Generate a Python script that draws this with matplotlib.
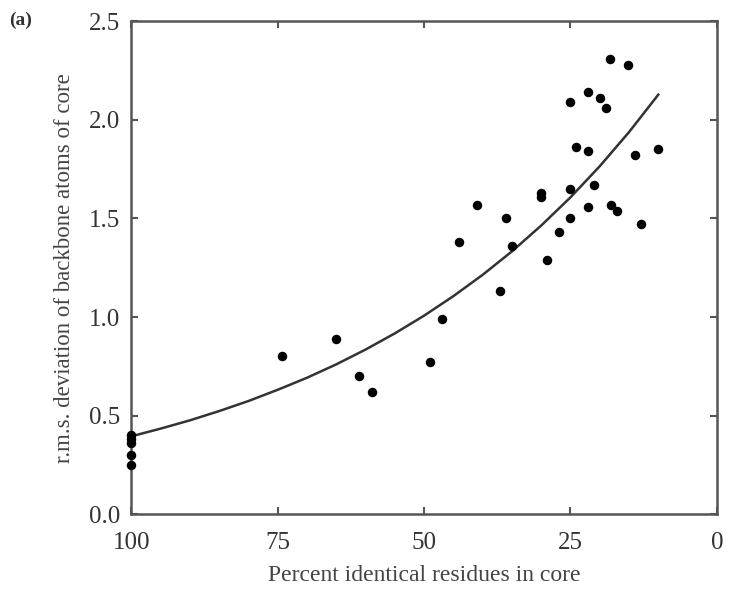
import matplotlib
matplotlib.use('Agg')
import matplotlib.pyplot as plt

# 数据点
identity = [100, 100, 100, 100, 100,
            74.2, 65.0, 61.1, 58.9, 49.0, 47.0,
            44.1, 41.0, 37.0, 36.1, 35.0,
            30.0, 30.0, 29.0, 27.0, 25.0, 25.0, 25.0, 24.1,
            22.0, 22.0, 22.0, 21.0, 20.0, 19.0, 18.2, 18.1,
            17.0, 15.1, 14.0, 13.0, 10.0]
rmsd = [0.40, 0.38, 0.36, 0.30, 0.25,
        0.80, 0.89, 0.70, 0.62, 0.77, 0.99,
        1.38, 1.57, 1.13, 1.50, 1.36,
        1.63, 1.61, 1.29, 1.43, 2.09, 1.65, 1.50, 1.86,
        2.14, 1.84, 1.56, 1.67, 2.11, 2.06, 2.31, 1.57,
        1.54, 2.28, 1.82, 1.47, 1.85]

# 拟合曲线
curve_x = [100, 95, 90, 85, 80, 75, 70, 65, 60, 55, 50, 45, 40, 35, 30, 25, 20, 15, 10]
curve_y = [0.395, 0.434, 0.476, 0.523, 0.574, 0.631, 0.692, 0.760, 0.835, 0.917,
           1.007, 1.106, 1.214, 1.333, 1.464, 1.607, 1.765, 1.938, 2.128]

x_ticks = [100, 75, 50, 25, 0]
y_ticks = [0.0, 0.5, 1.0, 1.5, 2.0, 2.5]

plt.rcParams['font.family'] = ['Liberation Serif', 'DejaVu Serif']

fig = plt.figure(figsize=(7.3, 5.91), dpi=100)
ax = fig.add_axes([0.180, 0.130, 0.802, 0.834])

ax.plot(curve_x, curve_y, color='#333333', linewidth=1.8, zorder=2)
ax.scatter(identity, rmsd, s=34, color='black', zorder=3, clip_on=False)

ax.set_xlim(100, 0)
ax.set_ylim(0, 2.5)
ax.set_xticks(x_ticks)
ax.set_xticklabels([str(v) for v in x_ticks])
ax.set_yticks(y_ticks)
ax.set_yticklabels(['%.1f' % v for v in y_ticks])

for s in ax.spines.values():
    s.set_color('#555555')
    s.set_linewidth(1.8)
ax.tick_params(direction='in', top=True, right=True, length=5, width=1.5,
               color='#555555', labelsize=18, labelcolor='#333333')
ax.tick_params(axis='x', pad=13)
ax.tick_params(axis='y', pad=8)

ax.set_xlabel('Percent identical residues in core', fontsize=17, color='#444444', labelpad=8)
ax.set_ylabel('r.m.s. deviation of backbone atoms of core', fontsize=16.5, color='#444444', labelpad=10)

fig.text(0.012, 0.965, '(a)', fontsize=14, color='#333333', va='center', fontweight='bold')

fig.savefig('out.png', dpi=100)
